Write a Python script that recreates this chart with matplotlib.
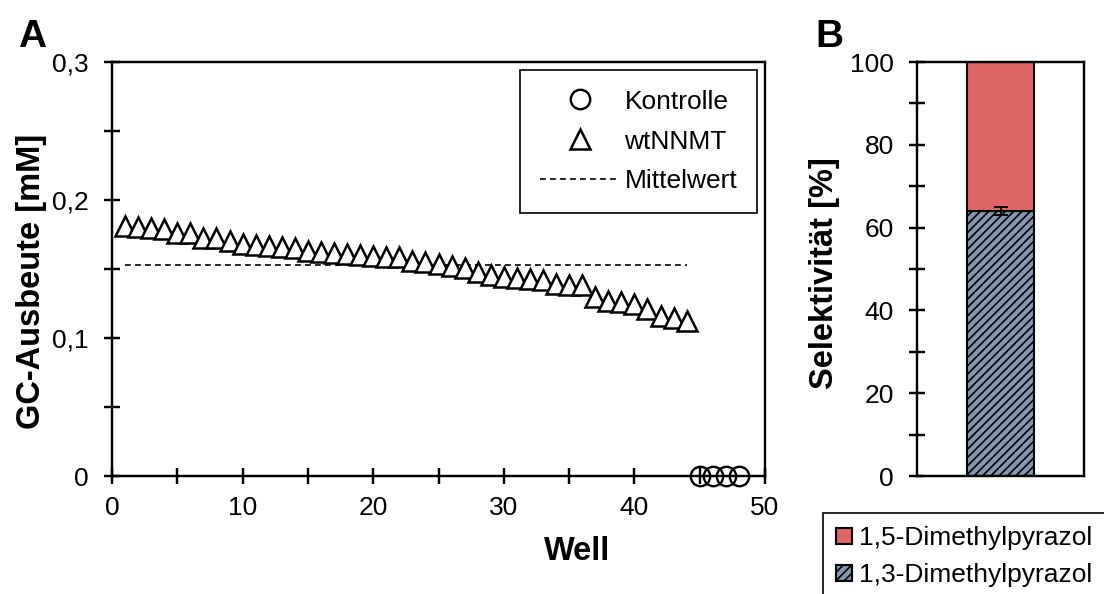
import matplotlib.pyplot as plt
import numpy as np
from matplotlib.ticker import MultipleLocator, FuncFormatter

plt.rcParams['font.family'] = ['Liberation Sans', 'DejaVu Sans']
plt.rcParams['hatch.linewidth'] = 1.2

# panel A: GC yield per well
wells_wt = list(range(1, 45))
yield_wt = [0.1814, 0.1802, 0.1795, 0.1787, 0.1758, 0.1758, 0.1725, 0.1722, 0.1705, 0.1681,
            0.1676, 0.1669, 0.1662, 0.1652, 0.1630, 0.1620, 0.1616, 0.1609, 0.1600, 0.1597,
            0.1590, 0.1585, 0.1560, 0.1550, 0.1536, 0.1524, 0.1505, 0.1476, 0.1460, 0.1440,
            0.1435, 0.1428, 0.1423, 0.1390, 0.1384, 0.1384, 0.1300, 0.1270, 0.1263, 0.1246,
            0.1210, 0.1160, 0.1143, 0.1126]
wells_ctrl = [45, 46, 47, 48]
yield_ctrl = [0.0, 0.0, 0.0, 0.0]

# panel B: selectivity
sel_13 = 64.0
sel_13_err = 1.0
sel_15 = 36.0

fs = 19
lw = 1.75

fig = plt.figure(figsize=(11.04, 5.94), dpi=100)

ax1 = fig.add_axes([112/1104, 118/594, 653/1104, 414/594])
ax1.plot(wells_wt, yield_wt, linestyle='none', marker='^', ms=14, mfc='white',
         mec='black', mew=1.8, label='wtNNMT', clip_on=False, zorder=3)
ax1.plot(wells_ctrl, yield_ctrl, linestyle='none', marker='o', ms=14, mfc='none',
         mec='black', mew=1.7, label='Kontrolle', clip_on=False, zorder=4)
mean_wt = np.mean(yield_wt)
ax1.plot([wells_wt[0], wells_wt[-1]], [mean_wt, mean_wt], color='black', lw=1.2,
         linestyle=(0, (3.5, 2.5)), label='Mittelwert', zorder=2)

ax1.set_xlim(0, 50)
ax1.set_ylim(0, 0.3)
ax1.xaxis.set_major_locator(MultipleLocator(10))
ax1.xaxis.set_minor_locator(MultipleLocator(5))
ax1.yaxis.set_major_locator(MultipleLocator(0.1))
ax1.yaxis.set_minor_locator(MultipleLocator(0.05))
ax1.yaxis.set_major_formatter(FuncFormatter(lambda v, p: '0' if abs(v) < 1e-9 else ('%.1f' % v).replace('.', ',')))
ax1.tick_params(which='both', direction='inout', length=11.5, width=lw, labelsize=fs)
ax1.tick_params(axis='x', which='both', pad=9)
ax1.tick_params(axis='y', which='both', pad=11)
for s in ax1.spines.values():
    s.set_linewidth(lw)
ax1.set_ylabel('GC-Ausbeute [mM]', fontsize=23.5, fontweight='bold')
ax1.yaxis.set_label_coords(-0.1, 0.47)
ax1.set_xlabel('Well', fontsize=23.5, fontweight='bold')
ax1.xaxis.set_label_coords(0.713, -0.145)

h, l = ax1.get_legend_handles_labels()
order = [1, 0, 2]
leg1 = ax1.legend([h[i] for i in order], [l[i] for i in order], loc='upper right',
                  bbox_to_anchor=(1, 1), borderaxespad=0.3, fontsize=fs, fancybox=False,
                  edgecolor='black', framealpha=1, handlelength=3.0, handletextpad=0.2,
                  labelspacing=0.6, borderpad=0.75)
leg1.get_frame().set_linewidth(1.2)

ax2 = fig.add_axes([917/1104, 118/594, 167/1104, 414/594])
b13 = ax2.bar([0], [sel_13], width=1, color='#8497B0', edgecolor='black', hatch='////',
              lw=1.5, label='1,3-Dimethylpyrazol', zorder=2)
b15 = ax2.bar([0], [sel_15], bottom=[sel_13], width=1, color='#E06666', edgecolor='black',
              lw=1.5, label='1,5-Dimethylpyrazol', zorder=2)
ax2.errorbar([0], [sel_13], yerr=[sel_13_err], color='black', capsize=5, lw=1.3,
             capthick=1.3, zorder=3)
ax2.set_xlim(-1.25, 1.25)
ax2.set_ylim(0, 100)
ax2.set_xticks([])
ax2.yaxis.set_major_locator(MultipleLocator(20))
ax2.yaxis.set_minor_locator(MultipleLocator(10))
ax2.tick_params(which='both', direction='inout', length=11.5, width=lw, labelsize=fs, pad=11)
for s in ax2.spines.values():
    s.set_linewidth(lw)
ax2.set_ylabel('Selektivität [%]', fontsize=23.5, fontweight='bold')
ax2.yaxis.set_label_coords(-0.46, 0.49)

leg2 = fig.legend([b15, b13], ['1,5-Dimethylpyrazol', '1,3-Dimethylpyrazol'],
                  loc='upper left', bbox_to_anchor=(823/1104, 1 - 513/594),
                  fontsize=fs, fancybox=False, edgecolor='black', framealpha=1,
                  handlelength=0.6, handleheight=0.6, handletextpad=0.25,
                  labelspacing=0.5, borderpad=0.5, borderaxespad=0)
leg2.get_frame().set_linewidth(1.2)

fig.text(18/1104, 1 - 47/594, 'A', fontsize=28, fontweight='bold')
fig.text(815/1104, 1 - 47/594, 'B', fontsize=28, fontweight='bold')

fig.savefig('out.png', dpi=100)
